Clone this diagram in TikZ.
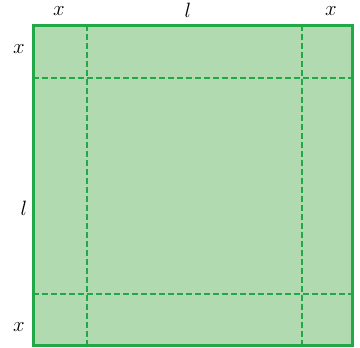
\documentclass[tikz,border=0pt]{standalone}
\usetikzlibrary{positioning,calc}
\definecolor{cEdge}{HTML}{22A846}
\definecolor{cFill}{HTML}{B1DAB1}
\tikzset{
  sheet/.style={draw=cEdge, fill=cFill, line width=3pt},
  cut/.style={draw=cEdge, line width=1.6pt, dash pattern=on 5.5pt off 3.5pt},
  lbl/.style={font=\fontsize{20}{24}\selectfont, inner sep=0pt},
}
\begin{document}
\begin{tikzpicture}[x=1pt, y=-1pt]
    \useasboundingbox (0,0) rectangle (360,348);
    % corners and cut lines
    \coordinate (tl) at (33.5,25.5);
    \coordinate (br) at (353,346);
    \coordinate (c1) at (87,78);
    \coordinate (c2) at (302,294);
    \draw[sheet] (tl) rectangle (br);
    \draw[cut] (tl -| c1) -- (br -| c1);
    \draw[cut] (tl -| c2) -- (br -| c2);
    \draw[cut] (tl |- c1) -- (br |- c1);
    \draw[cut] (tl |- c2) -- (br |- c2);
    % labels along the top
    \node[lbl] (tx1) at (59,11) {$x$};
    \node[lbl] (tl1) at (188,10) {$l$};
    \node[lbl] (tx2) at (331,11) {$x$};
    % labels along the left
    \node[lbl] (lx1) at (19,49) {$x$};
    \node[lbl] (ll1) at (24,208) {$l$};
    \node[lbl] (lx2) at (19,327) {$x$};
\end{tikzpicture}
\end{document}
